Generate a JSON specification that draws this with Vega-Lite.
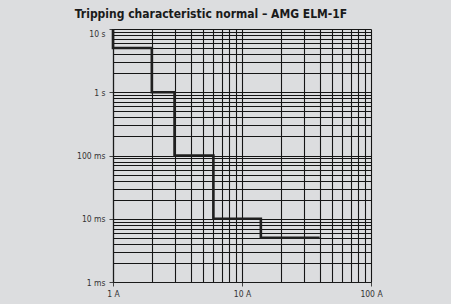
{
  "$schema": "https://vega.github.io/schema/vega-lite/v6.json",
  "width": 258,
  "height": 253,
  "autosize": "none",
  "padding": {"left": 113, "top": 29, "right": 80, "bottom": 22},
  "background": "#dcdddf",
  "title": {
    "text": "Tripping characteristic normal – AMG ELM-1F",
    "font": "Liberation Sans Narrow, DejaVu Sans Condensed, sans-serif",
    "fontSize": 12,
    "fontWeight": "bold",
    "color": "#1a1a1a",
    "frame": "group",
    "anchor": "middle",
    "dx": -31,
    "dy": 16,
    "offset": 10,
    "baseline": "alphabetic"
  },
  "config": {
    "view": {"stroke": null},
    "axis": {
      "labelFont": "Liberation Sans Narrow, DejaVu Sans Condensed, sans-serif",
      "labelFontSize": 8.5,
      "labelColor": "#333333",
      "domainColor": "#1a1a1a",
      "domainWidth": 1.2,
      "gridColor": "#151515",
      "gridOpacity": 1,
      "gridWidth": 1.1,
      "tickColor": "#444444",
      "title": null
    }
  },
  "data": {
    "values": [
      {"order": 0, "current": 1, "time": 10},
      {"order": 1, "current": 1, "time": 5},
      {"order": 2, "current": 2, "time": 1},
      {"order": 3, "current": 3, "time": 0.1},
      {"order": 4, "current": 6, "time": 0.01},
      {"order": 5, "current": 14, "time": 0.005},
      {"order": 6, "current": 40, "time": 0.005}
    ]
  },
  "mark": {"type": "line", "interpolate": "step-after", "color": "#1f1f1f", "strokeWidth": 2.6, "clip": false},
  "encoding": {
    "order": {"field": "order", "type": "quantitative"},
    "x": {
      "field": "current",
      "type": "quantitative",
      "scale": {"type": "log", "domain": [1, 100], "nice": false},
      "axis": {
        "values": [1,2,3,4,5,6,7,8,9,10,20,30,40,50,60,70,80,90,100],
        "labelExpr": "datum.value == 1 ? '1 A' : datum.value == 10 ? '10 A' : datum.value == 100 ? '100 A' : ''",
        "tickSize": 4,
        "tickOpacity": {"condition": {"test": "datum.value == 1 || datum.value == 10 || datum.value == 100", "value": 1}, "value": 0},
        "labelPadding": 3,
        "labelFlush": false,
        "labelOverlap": false
      }
    },
    "y": {
      "field": "time",
      "type": "quantitative",
      "scale": {"type": "log", "domain": [0.001, 10], "nice": false},
      "axis": {
        "values": [0.001,0.002,0.003,0.004,0.005,0.006,0.007,0.008,0.009,0.01,0.02,0.03,0.04,0.05,0.06,0.07,0.08,0.09,0.1,0.2,0.3,0.4,0.5,0.6,0.7,0.8,0.9,1,2,3,4,5,6,7,8,9,10],
        "labelExpr": "datum.value == 10 ? '10 s' : datum.value == 1 ? '1 s' : datum.value == 0.1 ? '100 ms' : datum.value == 0.01 ? '10 ms' : datum.value == 0.001 ? '1 ms' : ''",
        "tickSize": 4,
        "tickOpacity": {"condition": {"test": "datum.value == 10 || datum.value == 1 || datum.value == 0.1 || datum.value == 0.01 || datum.value == 0.001", "value": 1}, "value": 0},
        "labelPadding": 4,
        "labelFlush": false,
        "labelOverlap": false,
        "labelBaseline": {"condition": {"test": "datum.value == 10", "value": "top"}, "value": "middle"}
      }
    }
  }
}
